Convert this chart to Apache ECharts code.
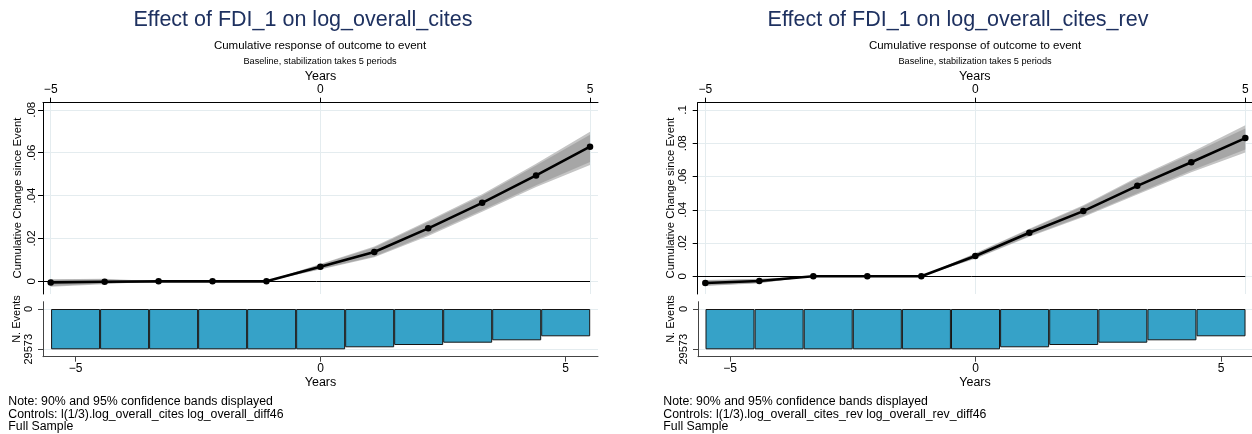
<!DOCTYPE html>
<html><head><meta charset="utf-8">
<script src="https://cdn.jsdelivr.net/npm/echarts@6/dist/echarts.min.js"></script>
<style>html,body{margin:0;padding:0;background:#fff}#c{width:1252px;height:434px}</style>
</head><body><div id="c"></div><script>
// ---------- data ----------
const years = [-5, -4, -3, -2, -1, 0, 1, 2, 3, 4, 5];
const estA  = [-0.0005, -0.0002, 0, 0, 0, 0.0068, 0.0137, 0.0247, 0.0366, 0.0494, 0.0628];
const lo95A = [-0.0025, -0.0013, 0, 0, 0, 0.0055, 0.0112, 0.0212, 0.0324, 0.0440, 0.0542];
const hi95A = [ 0.0010,  0.0012, 0, 0, 0, 0.0081, 0.0162, 0.0283, 0.0406, 0.0548, 0.0697];
const lo90A = [-0.0022, -0.0010, 0, 0, 0, 0.0057, 0.0116, 0.0218, 0.0331, 0.0448, 0.0557];
const hi90A = [ 0.0008,  0.0009, 0, 0, 0, 0.0079, 0.0158, 0.0277, 0.0399, 0.0540, 0.0683];
const estB  = [-0.0040, -0.0028, 0, 0, 0, 0.0122, 0.0262, 0.0392, 0.0544, 0.0686, 0.0831];
const lo95B = [-0.0058, -0.0042, 0, 0, 0, 0.0106, 0.0238, 0.0356, 0.0492, 0.0626, 0.0745];
const hi95B = [-0.0022, -0.0014, 0, 0, 0, 0.0138, 0.0286, 0.0428, 0.0596, 0.0746, 0.0909];
const lo90B = [-0.0055, -0.0040, 0, 0, 0, 0.0109, 0.0242, 0.0362, 0.0500, 0.0636, 0.0763];
const hi90B = [-0.0025, -0.0016, 0, 0, 0, 0.0135, 0.0282, 0.0422, 0.0588, 0.0736, 0.0889];
const nEvents = [29573, 29573, 29573, 29573, 29573, 29573, 28100, 26420, 24730, 22970, 20040];
const yTicksA = [0, 0.02, 0.04, 0.06, 0.08];
const yTicksB = [0, 0.02, 0.04, 0.06, 0.08, 0.1];
const xTicks = [-5, 0, 5];
const eventTicks = [0, 29573];
const titleA = 'Effect of FDI_1 on log_overall_cites';
const titleB = 'Effect of FDI_1 on log_overall_cites_rev';
const subtitle = 'Cumulative response of outcome to event';
const subtitle2 = 'Baseline, stabilization takes 5 periods';
const notesA = ['Note: 90% and 95% confidence bands displayed', 'Controls: l(1/3).log_overall_cites log_overall_diff46', 'Full Sample'];
const notesB = ['Note: 90% and 95% confidence bands displayed', 'Controls: l(1/3).log_overall_cites_rev log_overall_rev_diff46', 'Full Sample'];

// ---------- styling ----------
const FONT = "'Liberation Sans', Arial, sans-serif";
const GRIDC = '#e4ecef';
const fmtX = v => String(v).replace('-', '\u2212');
const fmtY = v => v === 0 ? '0' : String(v).replace(/^0\./, '.').replace(/^-0\./, '-.');

const panels = [
  { est: estA, lo95: lo95A, hi95: hi95A, lo90: lo90A, hi90: hi90A, yTicks: yTicksA,
    main: {left: 43, top: 102.7, width: 555, height: 191.3}, mainX: [-5.143, 5.148], mainY: [-0.0059, 0.0833],
    bar: {left: 43, top: 301.7, width: 555, height: 55}, barX: [-5.665, 5.659], yLabMargin: 5 },
  { est: estB, lo95: lo95B, hi95: hi95B, lo90: lo90B, hi90: hi90B, yTicks: yTicksB,
    main: {left: 697.7, top: 102.7, width: 554.3, height: 191.3}, mainX: [-5.141, 5.124], mainY: [-0.01064, 0.1044],
    bar: {left: 698, top: 301.7, width: 554, height: 55}, barX: [-5.652, 5.631], yLabMargin: 9 }
];
const barY = [-5357, 35003];

const grid = [], xAxis = [], yAxis = [], series = [];
panels.forEach((p, k) => {
  const gi = grid.length;
  grid.push(p.main);
  grid.push(p.bar);
  // main top x axis
  xAxis.push({
    type: 'value', gridIndex: gi, position: 'top', min: p.mainX[0], max: p.mainX[1],
    name: 'Years', nameLocation: 'middle', nameGap: 20,
    nameTextStyle: {fontFamily: FONT, fontSize: 12.5, color: '#000'},
    axisLine: {show: true, onZero: false, lineStyle: {color: '#000', width: 1}},
    axisTick: {show: true, length: 5, customValues: xTicks, lineStyle: {color: '#000'}},
    axisLabel: {customValues: xTicks, formatter: fmtX, margin: 7, fontFamily: FONT, fontSize: 12, color: '#000'},
    splitLine: {show: true, lineStyle: {color: GRIDC, width: 1}}
  });
  yAxis.push({
    type: 'value', gridIndex: gi, min: p.mainY[0], max: p.mainY[1],
    axisLine: {show: true, onZero: false, lineStyle: {color: '#000', width: 1}},
    axisTick: {show: true, length: 5, customValues: p.yTicks, lineStyle: {color: '#000'}},
    axisLabel: {customValues: p.yTicks, formatter: fmtY, rotate: 90, margin: p.yLabMargin, fontFamily: FONT, fontSize: 11.5, color: '#000'},
    splitLine: {show: true, lineStyle: {color: GRIDC, width: 1}}
  });
  // bar bottom x axis
  xAxis.push({
    type: 'value', gridIndex: gi + 1, position: 'bottom', min: p.barX[0], max: p.barX[1],
    name: 'Years', nameLocation: 'middle', nameGap: 19,
    nameTextStyle: {fontFamily: FONT, fontSize: 12.5, color: '#000'},
    axisLine: {show: true, onZero: false, lineStyle: {color: '#444', width: 1}},
    axisTick: {show: true, length: 5, customValues: xTicks, lineStyle: {color: '#444'}},
    axisLabel: {customValues: xTicks, formatter: fmtX, margin: 6, fontFamily: FONT, fontSize: 12, color: '#000'},
    splitLine: {show: false}
  });
  yAxis.push({
    type: 'value', gridIndex: gi + 1, inverse: true, min: barY[0], max: barY[1],
    axisLine: {show: true, onZero: false, lineStyle: {color: '#444', width: 1}},
    axisTick: {show: true, length: 5, customValues: eventTicks, lineStyle: {color: '#444'}},
    axisLabel: {customValues: eventTicks, formatter: v => String(v), rotate: 90, margin: 9, fontFamily: FONT, fontSize: 11, color: '#000'},
    splitLine: {show: true, lineStyle: {color: GRIDC, width: 1}}
  });

  const band = (lo, hi, color, z) => ({
    type: 'custom', xAxisIndex: gi, yAxisIndex: gi, z: z, silent: true,
    data: [[years[0], 0]],
    renderItem: (params, api) => {
      const pts = [];
      years.forEach((x, i) => pts.push(api.coord([x, hi[i]])));
      for (let i = years.length - 1; i >= 0; i--) pts.push(api.coord([years[i], lo[i]]));
      return {type: 'polygon', shape: {points: pts}, style: {fill: color}};
    }
  });
  series.push(band(p.lo95, p.hi95, '#c4c4c4', 2));
  series.push(band(p.lo90, p.hi90, '#a6a6a6', 3));
  series.push({
    type: 'line', xAxisIndex: gi, yAxisIndex: gi, z: 5, silent: true,
    data: years.map((x, i) => [x, p.est[i]]),
    symbol: 'circle', symbolSize: 6.5, showSymbol: true,
    lineStyle: {color: '#000', width: 2.6}, itemStyle: {color: '#000'},
    markLine: {
      silent: true, symbol: 'none', z: 4, label: {show: false},
      lineStyle: {color: '#000', width: 1, type: 'solid'},
      data: [[{coord: [p.mainX[0], 0]}, {coord: [years[years.length - 1], 0]}]]
    }
  });
  series.push({
    type: 'bar', xAxisIndex: gi + 1, yAxisIndex: gi + 1, silent: true,
    data: years.map((x, i) => [x, nEvents[i]]),
    barWidth: 49,
    itemStyle: {color: '#36a2c8', borderColor: '#151515', borderWidth: 1}
  });
});

const graphic = [];
const txt = (x, y, text, size, opts) => graphic.push(Object.assign({
  type: 'text', x: x, y: y, silent: true,
  style: Object.assign({text: text, fontFamily: FONT, fontSize: size, fill: '#000', align: 'center', verticalAlign: 'middle'}, (opts && opts.style) || {})
}, (opts && opts.el) || {}));
[[0, titleA, notesA, 18, 17], [655, titleB, notesB, 671, 671]].forEach(([dx, t, notes, yn, bn]) => {
  txt(303 + dx, 20, t, 21.5, {style: {fill: '#1e3160'}});
  txt(320 + dx, 46.3, subtitle, 11.5);
  txt(320 + dx, 61.7, subtitle2, 9.2);
  txt(yn, 198, 'Cumulative Change since Event', 11.3, {el: {rotation: Math.PI / 2}});
  txt(bn, 319, 'N. Events', 11, {el: {rotation: Math.PI / 2}});
  notes.forEach((n, i) => txt(8.3 + dx, 402 + i * 12.2, n, 12.3, {style: {align: 'left'}}));
});

const chart = echarts.init(document.getElementById('c'), null, {renderer: 'canvas'});
chart.setOption({
  animation: false, backgroundColor: '#fff',
  grid: grid, xAxis: xAxis, yAxis: yAxis, series: series, graphic: graphic
});
</script></body></html>
